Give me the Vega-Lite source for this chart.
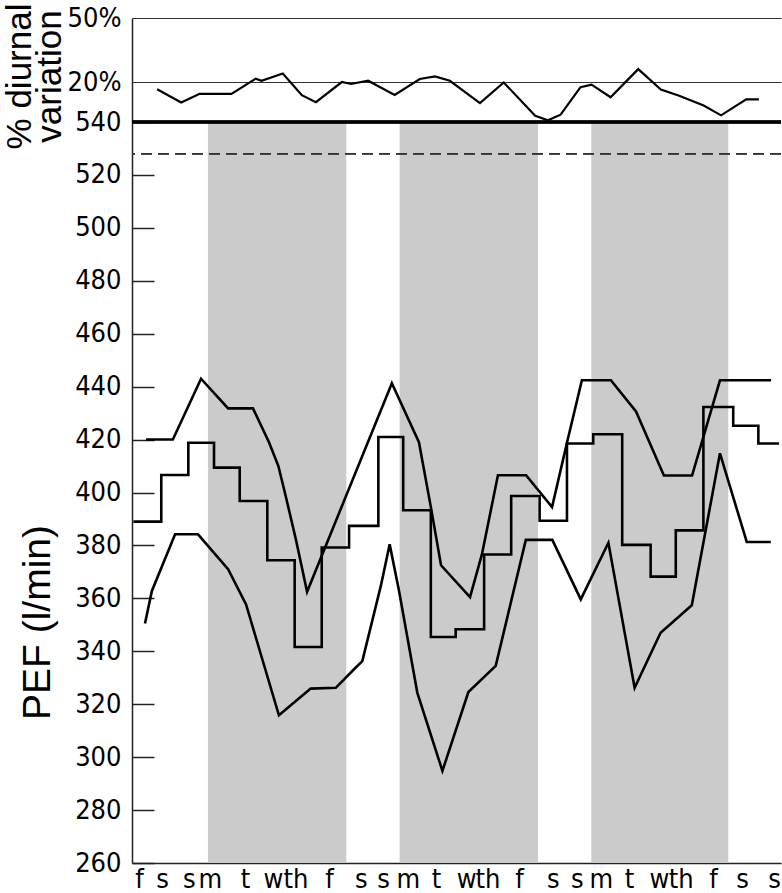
{
  "$schema": "https://vega.github.io/schema/vega-lite/v6.json",
  "background": "white",
  "padding": {"left": 2, "top": 3, "right": 0, "bottom": 0},
  "bounds": "flush",
  "spacing": 0,
  "config": {
    "view": {"stroke": null},
    "axis": {"labelColor": "black", "titleColor": "black", "domainColor": "#222", "tickColor": "#222", "domainWidth": 1.5, "tickWidth": 1.5, "labelOverlap": false, "labelFlush": false}
  },
  "datasets": {
    "diurnal": [
      {"day": 1.21, "variation": 16.8}, {"day": 2.08, "variation": 10.7}, {"day": 2.75, "variation": 14.7},
      {"day": 3.9, "variation": 14.7}, {"day": 4.78, "variation": 21.8}, {"day": 4.99, "variation": 20.8},
      {"day": 5.76, "variation": 24.2}, {"day": 6.45, "variation": 14.1}, {"day": 6.96, "variation": 10.8},
      {"day": 7.9, "variation": 20.2}, {"day": 8.23, "variation": 19.3}, {"day": 8.85, "variation": 20.8},
      {"day": 9.81, "variation": 14.2}, {"day": 10.72, "variation": 21.6}, {"day": 11.27, "variation": 22.8},
      {"day": 11.81, "variation": 20.8}, {"day": 12.9, "variation": 10.4}, {"day": 13.76, "variation": 20.0},
      {"day": 14.9, "variation": 4.5}, {"day": 15.36, "variation": 2.4}, {"day": 15.82, "variation": 5.0},
      {"day": 16.54, "variation": 17.8}, {"day": 16.94, "variation": 19.0}, {"day": 17.63, "variation": 13.1},
      {"day": 18.63, "variation": 26.2}, {"day": 19.45, "variation": 16.7}, {"day": 20.09, "variation": 13.9},
      {"day": 21.0, "variation": 9.3}, {"day": 21.63, "variation": 4.7}, {"day": 22.54, "variation": 12.1},
      {"day": 23.0, "variation": 12.1}
    ],
    "weeks": [
      {"day": 3.05, "end": 8.06}, {"day": 9.99, "end": 15.0}, {"day": 16.93, "end": 21.89}
    ],
    "envelope": [
      {"series": "max", "day": 0.81, "pef": 420}, {"series": "max", "day": 1.78, "pef": 420},
      {"series": "max", "day": 2.8, "pef": 443}, {"series": "max", "day": 3.78, "pef": 431.8},
      {"series": "max", "day": 4.68, "pef": 431.8}, {"series": "max", "day": 5.26, "pef": 419},
      {"series": "max", "day": 5.6, "pef": 410}, {"series": "max", "day": 5.88, "pef": 398},
      {"series": "max", "day": 6.24, "pef": 382}, {"series": "max", "day": 6.64, "pef": 362.5},
      {"series": "max", "day": 9.71, "pef": 441.3}, {"series": "max", "day": 10.69, "pef": 419},
      {"series": "max", "day": 11.13, "pef": 394}, {"series": "max", "day": 11.49, "pef": 372.5},
      {"series": "max", "day": 12.54, "pef": 360.5}, {"series": "max", "day": 12.97, "pef": 376.6},
      {"series": "max", "day": 13.55, "pef": 406.5}, {"series": "max", "day": 14.57, "pef": 406.5},
      {"series": "max", "day": 15.51, "pef": 394.5}, {"series": "max", "day": 16.05, "pef": 418.8},
      {"series": "max", "day": 16.59, "pef": 442.4}, {"series": "max", "day": 17.64, "pef": 442.4},
      {"series": "max", "day": 18.55, "pef": 430.6}, {"series": "max", "day": 19.56, "pef": 406.4},
      {"series": "max", "day": 20.58, "pef": 406.4}, {"series": "max", "day": 21.59, "pef": 442.4},
      {"series": "max", "day": 23.44, "pef": 442.4},
      {"series": "min", "day": 0.77, "pef": 350.5}, {"series": "min", "day": 1.02, "pef": 362.8},
      {"series": "min", "day": 1.86, "pef": 384.2}, {"series": "min", "day": 2.69, "pef": 384.2},
      {"series": "min", "day": 3.78, "pef": 371}, {"series": "min", "day": 4.43, "pef": 357.7},
      {"series": "min", "day": 5.62, "pef": 315.8}, {"series": "min", "day": 6.77, "pef": 325.9},
      {"series": "min", "day": 7.68, "pef": 326.2}, {"series": "min", "day": 8.34, "pef": 333.2},
      {"series": "min", "day": 8.64, "pef": 336.3}, {"series": "min", "day": 9.31, "pef": 364.7},
      {"series": "min", "day": 9.63, "pef": 380.4}, {"series": "min", "day": 9.97, "pef": 362.8},
      {"series": "min", "day": 10.63, "pef": 324.4}, {"series": "min", "day": 11.54, "pef": 294.8},
      {"series": "min", "day": 12.48, "pef": 324.6}, {"series": "min", "day": 13.47, "pef": 334.5},
      {"series": "min", "day": 14.56, "pef": 382.1}, {"series": "min", "day": 15.52, "pef": 382.1},
      {"series": "min", "day": 16.55, "pef": 359.6}, {"series": "min", "day": 17.55, "pef": 381},
      {"series": "min", "day": 18.5, "pef": 326.2}, {"series": "min", "day": 19.44, "pef": 347},
      {"series": "min", "day": 20.57, "pef": 357.4}, {"series": "min", "day": 21.59, "pef": 414.8},
      {"series": "min", "day": 22.56, "pef": 381.3}, {"series": "min", "day": 23.43, "pef": 381.3}
    ],
    "mean": [
      {"day": 0.35, "pef": 389}, {"day": 1.36, "pef": 406.6}, {"day": 2.34, "pef": 418.8},
      {"day": 3.27, "pef": 409.4}, {"day": 4.2, "pef": 396.8}, {"day": 5.2, "pef": 374.4},
      {"day": 6.19, "pef": 341.6}, {"day": 7.17, "pef": 379.2}, {"day": 8.16, "pef": 387.4},
      {"day": 9.22, "pef": 421}, {"day": 10.12, "pef": 393.3}, {"day": 11.12, "pef": 345.4},
      {"day": 12.02, "pef": 348.3}, {"day": 13.05, "pef": 376.6}, {"day": 14.03, "pef": 398.7},
      {"day": 15.06, "pef": 389.3}, {"day": 16.05, "pef": 418.5}, {"day": 17.0, "pef": 422},
      {"day": 18.05, "pef": 380.2}, {"day": 19.08, "pef": 368.2}, {"day": 19.99, "pef": 385.7},
      {"day": 20.99, "pef": 432.3}, {"day": 22.07, "pef": 425.2}, {"day": 22.98, "pef": 418.5},
      {"day": 23.73, "pef": 418.5}
    ]
  },
  "vconcat": [
    {
      "width": 649,
      "height": 104,
      "data": {"name": "diurnal"},
      "mark": {"type": "line", "color": "black", "strokeWidth": 2.2},
      "encoding": {
        "x": {"field": "day", "type": "quantitative", "scale": {"domain": [0.3, 23.8], "nice": false, "zero": false}, "axis": null},
        "y": {
          "field": "variation", "type": "quantitative",
          "scale": {"domain": [1.6, 50], "nice": false, "zero": false},
          "axis": {
            "values": [20, 50], "labelExpr": "datum.value + '%'",
            "grid": true, "gridColor": "#333", "gridWidth": 1,
            "ticks": false, "labelPadding": 11,
            "labelFont": "Liberation Sans Narrow, Arial Narrow, DejaVu Sans Condensed, sans-serif", "labelFontSize": 27,
            "title": ["% diurnal", "variation"],
            "titleFont": "Liberation Sans, Arial, sans-serif", "titleFontSize": 35, "titleFontWeight": "normal",
            "titleLineHeight": 30, "titleX": -102, "titleY": 58, "titleBaseline": "alphabetic"
          }
        }
      }
    },
    {
      "width": 649,
      "height": 741,
      "encoding": {
        "x": {
          "field": "day", "type": "quantitative",
          "scale": {"domain": [0.3, 23.8], "nice": false, "zero": false},
          "axis": {
            "values": [0.55, 1.39, 2.36, 3.12, 4.39, 5.4, 6.22, 7.43, 8.59, 9.39, 10.29, 11.31, 12.4, 13.17, 14.31, 15.54, 16.41, 17.28, 18.3, 19.38, 20.17, 21.34, 22.39, 23.55],
            "labelExpr": "['f','s','s','m','t','w','th'][floor(datum.value) % 7]",
            "ticks": false, "grid": false, "title": null, "labelPadding": 3,
            "labelFont": "Liberation Sans Narrow, Arial Narrow, DejaVu Sans Condensed, sans-serif", "labelFontSize": 27
          }
        }
      },
      "layer": [
        {
          "data": {"name": "weeks"},
          "mark": {"type": "rect", "color": "#cbcbcb"},
          "encoding": {
            "x2": {"field": "end"},
            "y": {
              "datum": 540, "type": "quantitative",
              "scale": {"domain": [260, 540], "nice": false, "zero": false},
              "axis": {
                "values": [260, 280, 300, 320, 340, 360, 380, 400, 420, 440, 460, 480, 500, 520, 540],
                "tickSize": -22, "labelPadding": 33, "grid": false,
                "labelFont": "Liberation Sans Narrow, Arial Narrow, DejaVu Sans Condensed, sans-serif", "labelFontSize": 27,
                "title": "PEF (l/min)",
                "titleFont": "Liberation Sans, Arial, sans-serif", "titleFontSize": 39, "titleFontWeight": "normal",
                "titleX": -83, "titleY": 500, "titleBaseline": "alphabetic"
              }
            },
            "y2": {"datum": 260}
          }
        },
        {
          "data": {"name": "weeks"},
          "mark": {"type": "rule", "strokeDash": [11, 6], "strokeWidth": 1.3, "color": "#333"},
          "encoding": {"x": null, "y": {"datum": 528, "type": "quantitative"}}
        },
        {
          "data": {"name": "envelope"},
          "mark": {"type": "line", "color": "black", "strokeWidth": 2.6},
          "encoding": {
            "y": {"field": "pef", "type": "quantitative"},
            "detail": {"field": "series", "type": "nominal"}
          }
        },
        {
          "data": {"name": "mean"},
          "mark": {"type": "line", "color": "black", "strokeWidth": 2.6, "interpolate": "step-after"},
          "encoding": {
            "y": {"field": "pef", "type": "quantitative"}
          }
        },
        {
          "data": {"name": "weeks"},
          "mark": {"type": "rule", "strokeWidth": 3.2, "color": "black"},
          "encoding": {"x": null, "y": {"datum": 540, "type": "quantitative"}}
        }
      ]
    }
  ]
}
